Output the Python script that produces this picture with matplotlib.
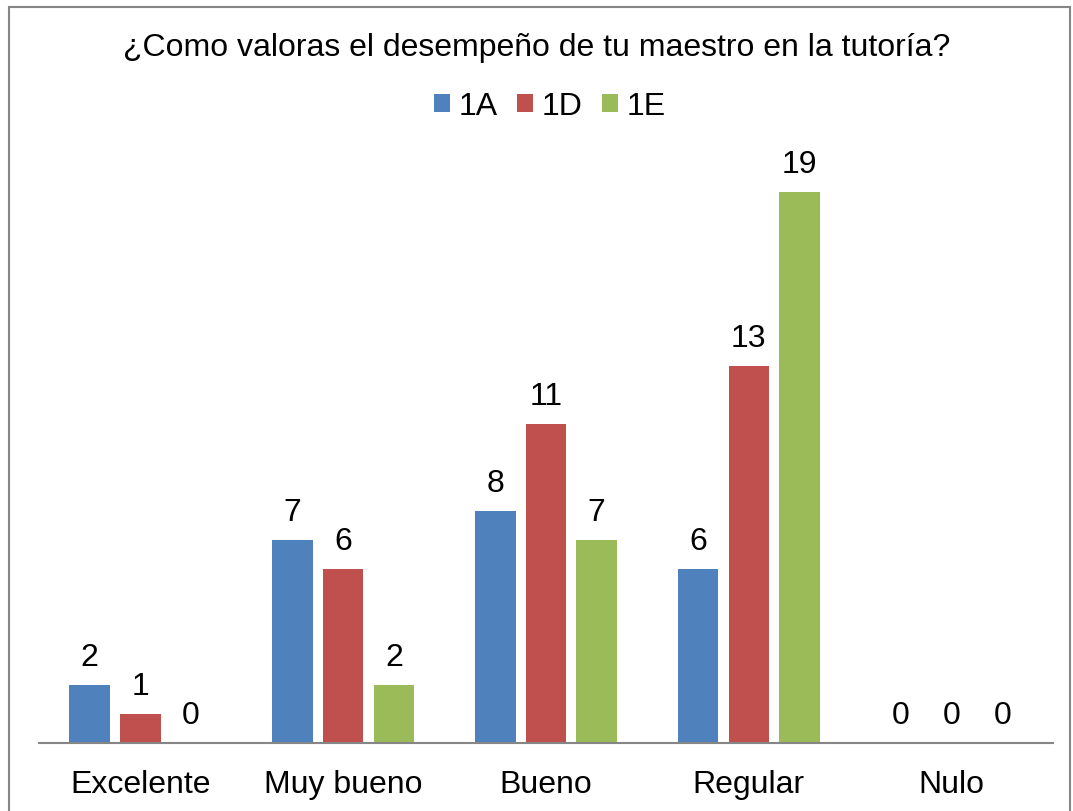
import numpy as np
from matplotlib import pyplot as plt
from matplotlib.patches import Rectangle

plt.rcParams['font.family'] = ['Liberation Sans', 'DejaVu Sans']

categories = ['Excelente', 'Muy bueno', 'Bueno', 'Regular', 'Nulo']
series = ['1A', '1D', '1E']
values_1a = [2, 7, 8, 6, 0]
values_1d = [1, 6, 11, 13, 0]
values_1e = [0, 2, 7, 19, 0]
colors = ['#4F81BD', '#C0504D', '#9BBB59']

W, H = 1073, 812
fig = plt.figure(figsize=(W / 100, H / 100), dpi=100)

# outer frame (bottom edge is cut off in the original)
fig.patches.append(Rectangle((9 / W, -0.01), (1070 - 9) / W, (H - 8) / H + 0.01,
                             transform=fig.transFigure, fill=False,
                             edgecolor='#868686', linewidth=1.5))

ax = fig.add_axes([39 / W, (H - 744) / H, (1053 - 39) / W, 580 / H])
x = np.arange(len(categories))
width = 0.2
step = 0.25
for i, (vals, name) in enumerate(zip([values_1a, values_1d, values_1e], series)):
    pos = x + (i - 1) * step
    ax.bar(pos, vals, width, color=colors[i], label=name)
    for p, v in zip(pos, vals):
        ax.text(p, v + 0.95, str(v), ha='center', va='center', fontsize=23)

ax.set_xlim(-0.5, 4.5)
ax.set_ylim(0, 20)
ax.set_xticks(x)
ax.set_xticklabels(categories, fontsize=23)
ax.tick_params(axis='x', length=0, pad=19)
ax.set_yticks([])
ax.grid(False)
for s in ['top', 'right', 'left']:
    ax.spines[s].set_visible(False)
ax.spines['bottom'].set_color('#868686')
ax.spines['bottom'].set_linewidth(1.5)

fig.text(0.5, (H - 48) / H, '¿Como valoras el desempeño de tu maestro en la tutoría?',
         ha='center', va='center', fontsize=23)
fig.legend(loc='center', bbox_to_anchor=(550 / W, (H - 107) / H), ncol=3, frameon=False,
           fontsize=23, handlelength=0.5, handleheight=0.5, handletextpad=0.28,
           columnspacing=0.6)

fig.savefig('out.png', dpi=100)
